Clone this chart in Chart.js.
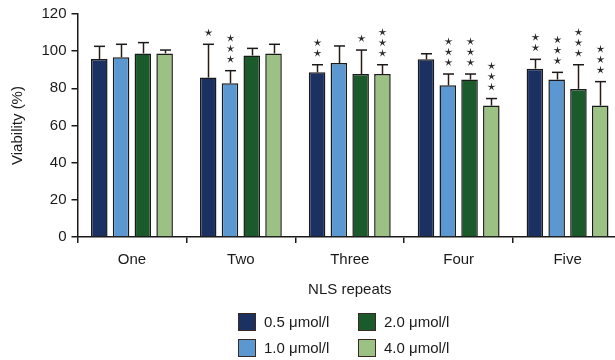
<!DOCTYPE html>
<html>
<head>
<meta charset="utf-8">
<script src="https://cdn.jsdelivr.net/npm/chart.js@4.4.1/dist/chart.umd.min.js"></script>
<style>
html,body{margin:0;padding:0;background:#fff;overflow:hidden;}
#wrap{position:absolute;left:0;top:0;width:622px;height:360px;}
</style>
</head>
<body>
<div id="wrap"><canvas id="c" width="622" height="360"></canvas></div>
<script>
const categories = ['One', 'Two', 'Three', 'Four', 'Five'];
const seriesLabels = ['0.5 \u03bcmol/l', '1.0 \u03bcmol/l', '2.0 \u03bcmol/l', '4.0 \u03bcmol/l'];
const v05 = [95.8, 85.8, 88.6, 95.6, 90.6];
const v10 = [96.7, 82.7, 93.6, 81.6, 84.7];
const v20 = [98.8, 97.7, 87.7, 84.7, 79.7];
const v40 = [98.8, 98.8, 87.7, 70.7, 70.7];
const sd05 = [6.8, 17.9, 4.1, 3.0, 5.0];
const sd10 = [7.0, 6.8, 9.2, 6.1, 3.9];
const sd20 = [5.8, 3.8, 12.9, 3.0, 13.0];
const sd40 = [1.8, 4.9, 5.0, 3.8, 12.9];
const stars05 = [0, 1, 2, 0, 2];
const stars10 = [0, 3, 0, 3, 3];
const stars20 = [0, 0, 1, 3, 3];
const stars40 = [0, 0, 3, 3, 3];
const yTicks = [0, 20, 40, 60, 80, 100, 120];

const colors = ['#1b3161', '#5b97d1', '#1b5a2b', '#9cc184'];
const values = [v05, v10, v20, v40];
const sds = [sd05, sd10, sd20, sd40];
const stars = [stars05, stars10, stars20, stars40];
const FONT = "'Liberation Sans', Arial, Helvetica, sans-serif";
const INK = '#1a1a1a';
const FS = 15;

function drawStar(ctx, cx, cy) {
  const R = 4.3, r = 1.3;
  ctx.beginPath();
  for (let k = 0; k < 10; k++) {
    const a = -Math.PI / 2 + k * Math.PI / 5;
    const rr = k % 2 === 0 ? R : r;
    const px = cx + rr * Math.cos(a), py = cy + rr * Math.sin(a);
    if (k === 0) ctx.moveTo(px, py); else ctx.lineTo(px, py);
  }
  ctx.closePath();
  ctx.fill();
}

const overlay = {
  id: 'overlay',
  afterDatasetsDraw(chart) {
    const ctx = chart.ctx;
    const y = chart.scales.y;
    ctx.save();
    chart.data.datasets.forEach((ds, di) => {
      const meta = chart.getDatasetMeta(di);
      meta.data.forEach((el, i) => {
        const top = y.getPixelForValue(values[di][i] + sds[di][i]);
        const x = Math.round(el.x) + 0.5;
        ctx.strokeStyle = '#2a1a14';
        ctx.lineWidth = 1.5;
        ctx.beginPath();
        ctx.moveTo(x, el.y);
        ctx.lineTo(x, top);
        ctx.stroke();
        ctx.strokeStyle = INK;
        ctx.beginPath();
        ctx.moveTo(x - 5.5, top);
        ctx.lineTo(x + 5.5, top);
        ctx.stroke();
        const n = stars[di][i];
        ctx.fillStyle = '#2a2a2a';
        for (let k = 0; k < n; k++) {
          drawStar(ctx, x, top - 11.5 - k * 10.5);
        }
      });
    });
    ctx.restore();
  },
  afterDraw(chart) {
    const ctx = chart.ctx;
    ctx.save();
    const order = [0, 2, 1, 3];
    const pos = [[238, 313], [358, 313], [238, 339], [358, 339]];
    for (let k = 0; k < 4; k++) {
      const di = order[k];
      const [bx, by] = pos[k];
      ctx.fillStyle = colors[di];
      ctx.fillRect(bx, by, 17, 17);
      ctx.strokeStyle = '#3a2a22';
      ctx.lineWidth = 1;
      ctx.strokeRect(bx + 0.5, by + 0.5, 17, 17);
      ctx.fillStyle = INK;
      ctx.font = FS + 'px ' + FONT;
      ctx.textAlign = 'left';
      ctx.textBaseline = 'middle';
      ctx.fillText(seriesLabels[di], bx + 26, by + 9.5);
    }
    ctx.restore();
  }
};

new Chart(document.getElementById('c'), {
  type: 'bar',
  data: {
    labels: categories,
    datasets: values.map((v, i) => ({
      label: seriesLabels[i],
      data: v,
      backgroundColor: colors[i],
      borderColor: INK,
      borderWidth: 1.5,
      barPercentage: 0.76,
      categoryPercentage: 0.8
    }))
  },
  options: {
    responsive: false,
    animation: false,
    layout: { padding: { top: 13, right: 0, bottom: 58, left: 0 } },
    plugins: { legend: { display: false }, tooltip: { enabled: false } },
    scales: {
      y: {
        min: 0, max: 120,
        afterBuildTicks: (s) => { s.ticks = yTicks.map(v => ({ value: v })); },
        afterFit: (s) => { s.width = 77.5; },
        ticks: { color: INK, font: { size: FS, family: FONT }, padding: 5 },
        grid: { drawOnChartArea: false, drawTicks: true, tickLength: 6, color: INK, lineWidth: 1.5 },
        border: { display: true, color: INK, width: 1.5 },
        title: { display: true, text: 'Viability (%)', color: INK, font: { size: FS, family: FONT }, padding: { top: 9, bottom: 0 } }
      },
      x: {
        afterFit: (s) => { s.height = 65; },
        ticks: { color: INK, font: { size: FS, family: FONT }, padding: 8 },
        grid: { offset: true, drawOnChartArea: false, drawTicks: true, tickLength: 6, color: INK, lineWidth: 1.5 },
        border: { display: true, color: INK, width: 1.5 },
        title: { display: true, text: 'NLS repeats', color: INK, font: { size: FS, family: FONT }, padding: { top: 0, bottom: 3 } }
      }
    }
  },
  plugins: [overlay]
});
</script>
</body>
</html>
